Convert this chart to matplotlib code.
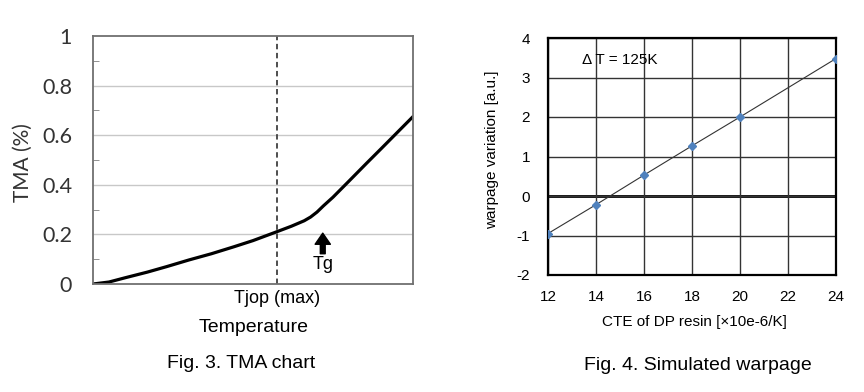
import matplotlib
matplotlib.use('Agg')
import matplotlib.pyplot as plt
import numpy as np

plt.rcParams['axes.unicode_minus'] = False

# Fig. 3 - TMA curve (temperature in arbitrary 0..100 units)
tma_temp = [0, 5, 10, 17, 23, 30, 37, 44, 50, 57.5, 62, 66, 68, 70, 72, 75, 80, 85.5, 90, 95, 100]
tma_val = [0, 0.008, 0.025, 0.048, 0.07, 0.097, 0.122, 0.15, 0.175, 0.211, 0.233, 0.255, 0.27, 0.29, 0.315, 0.35, 0.415, 0.487, 0.545, 0.61, 0.675]
tjop_x = 57.5
tg_x = 71.8
tma_yticks = [0, 0.2, 0.4, 0.6, 0.8, 1]
tma_ytick_labels = ['0', '0.2', '0.4', '0.6', '0.8', '1']

# Fig. 4 - simulated warpage
cte = [12, 14, 16, 18, 20, 24]
warpage = [-0.95, -0.22, 0.53, 1.27, 2.0, 3.48]

fig = plt.figure(figsize=(8.64, 3.92), dpi=100)

# ---- left chart
ax1 = fig.add_axes([93/864, 1-284/392, 320/864, 248/392])
ax1.plot(tma_temp, tma_val, color='black', lw=2.3, solid_capstyle='round', solid_joinstyle='round')
ax1.set_xlim(0, 100)
ax1.set_ylim(0, 1)
ax1.set_yticks(tma_yticks)
ax1.set_yticklabels(tma_ytick_labels, family='Lato', fontsize=15.5, color='#333333')
ax1.set_yticks(np.arange(0.1, 1.0, 0.2), minor=True)
ax1.tick_params(axis='y', which='major', length=0, pad=15)
ax1.tick_params(axis='y', which='minor', direction='in', length=4, color='#808080')
ax1.set_xticks([])
for y in tma_yticks[1:-1]:
    ax1.axhline(y, color='#c8c8c8', lw=1, zorder=0)
for s in ax1.spines.values():
    s.set_color('#707070')
    s.set_linewidth(1.3)
ax1.axvline(tjop_x, color='#404040', lw=1.3, ls=(0, (3, 2)))
ax1.annotate('', xy=(tg_x, 0.205), xytext=(tg_x, 0.122),
             arrowprops=dict(facecolor='black', edgecolor='black', width=3.5, headwidth=11, headlength=8))
ax1.text(tg_x, 0.112, 'Tg', ha='center', va='top', family='Liberation Sans', fontsize=13)
ax1.text(tjop_x, -0.058, 'Tjop (max)', ha='center', va='center', family='Liberation Sans', fontsize=13,
         clip_on=False)
fig.text(254/864, 1-327/392, 'Temperature', ha='center', va='center', family='Liberation Sans', fontsize=14)
fig.text(23/864, 1-163/392, 'TMA (%)', ha='center', va='center', rotation=90, family='Lato', fontsize=15,
         color='#333333')
fig.text(241/864, 1-363/392, 'Fig. 3. TMA chart', ha='center', va='center', family='Liberation Sans', fontsize=14)

# ---- right chart
ax2 = fig.add_axes([548/864, 1-275/392, 288/864, 237/392])
ax2.set_xlim(12, 24)
ax2.set_ylim(-2, 4)
ax2.set_xticks(range(12, 25, 2))
ax2.set_yticks(range(-2, 5))
ax2.grid(True, color='#333333', lw=1)
ax2.axhline(0, color='black', lw=2, zorder=1.5)
ax2.plot(cte, warpage, color='#333333', lw=0.8, marker='D', ms=4.5,
         mfc='#4f81bd', mec='#4f81bd', zorder=3)
ax2.tick_params(length=0, labelsize=11, pad=11)
ax2.tick_params(axis='y', pad=13)
for lab in ax2.get_xticklabels() + ax2.get_yticklabels():
    lab.set_family('Liberation Sans')
for s in ax2.spines.values():
    s.set_color('black')
    s.set_linewidth(1.6)
ax2.text(13.4, 3.44, '\u0394 T = 125K', ha='left', va='center', family='Liberation Sans', fontsize=11)
fig.text(694/864, 1-322/392, 'CTE of DP resin [\u00d710e-6/K]', ha='center', va='center',
         family='Liberation Sans', fontsize=11)
fig.text(492/864, 1-150/392, 'warpage variation [a.u.]', ha='center', va='center', rotation=90,
         family='Liberation Sans', fontsize=11)
fig.text(698/864, 1-365/392, 'Fig. 4. Simulated warpage', ha='center', va='center',
         family='Liberation Sans', fontsize=14)

fig.savefig('out.png', dpi=100)
